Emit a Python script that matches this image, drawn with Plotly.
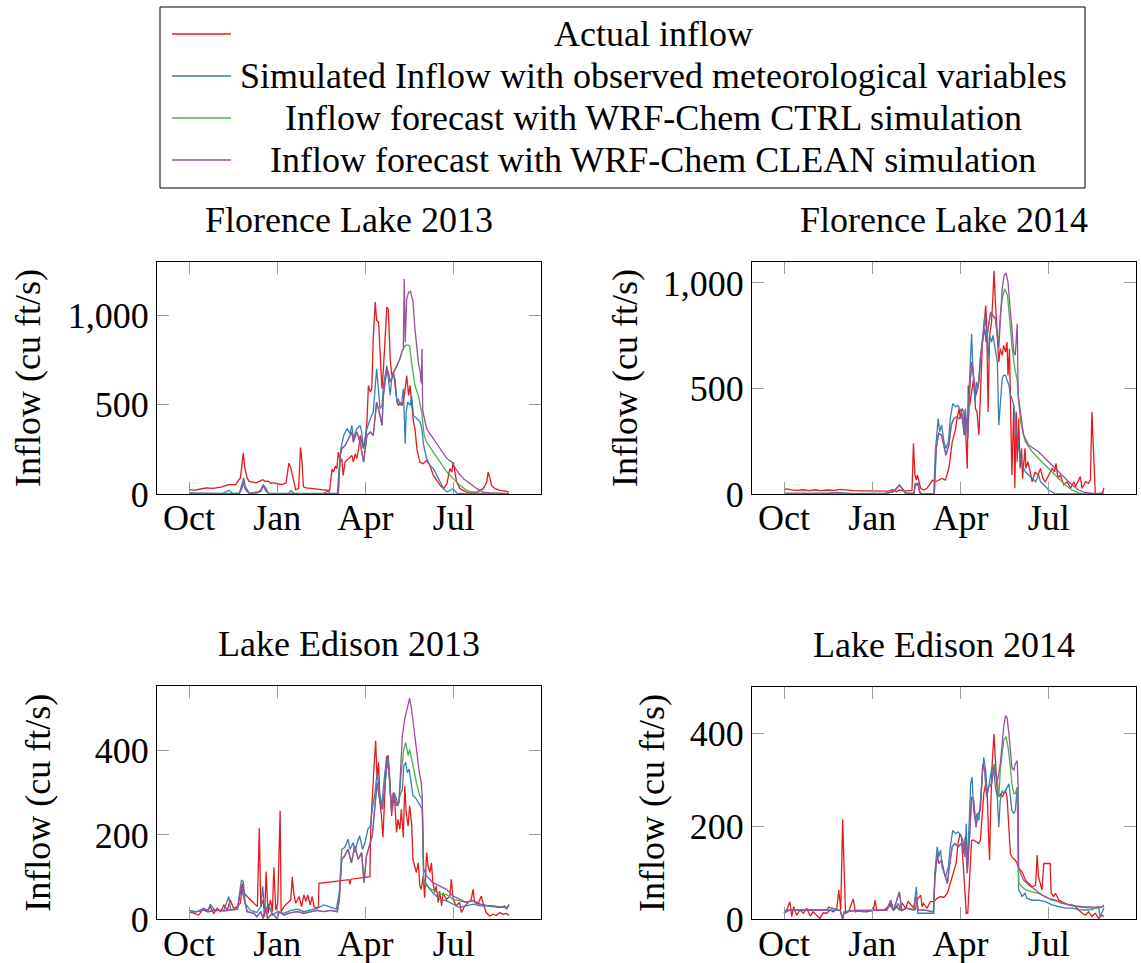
import plotly.graph_objects as go

# ---------------- data (day index since 1 Oct, inflow in cu ft/s) ----------------
MONTH_LABELS = ["Oct", "Jan", "Apr", "Jul"]
MONTH_DAYS = [0, 91, 182, 273]
SERIES_NAMES = ["Actual inflow",
                "Simulated Inflow with observed meteorological variables",
                "Inflow forecast with WRF-Chem CTRL simulation",
                "Inflow forecast with WRF-Chem CLEAN simulation"]
PANEL_TITLES = ["Florence Lake 2013", "Florence Lake 2014", "Lake Edison 2013", "Lake Edison 2014"]

FL13_ACTUAL = [(0,24),(6,22),(12,28),(18,34),(25,32),(33,38),(41,52),(48,52),(53,90),(56,230),(57.5,146),(60,90),(62,71),(66,64),(69,62),(73,72),(76,80),(79,70),(82,72),(84,60),(88,62),(91,56),(96,54),(100,60),(103,173),(105,146),(107.5,90),(110,24),(113,30),(115,261),(116.5,183),(118,40),(121,34),(126,30),(131,30),(136,24),(141,22),(145,20),(147.5,140),(149,123),(151,157),(152.5,142),(154,235),(156,179),(157.5,198),(159,104),(161,179),(164.5,198),(168,216),(169.5,179),(171.5,226),(173,198),(175,254),(176.5,328),(180,254),(181.5,300),(183.5,403),(185,608),(187,571),(188.5,590),(190,870),(192,1075),(193.5,972),(195.5,963),(197,832),(199,590),(200.5,702),(202.5,870),(204,1047),(205.5,1037),(207.5,758),(209,664),(211,683),(212.5,608),(214.5,515),(216,496),(217.5,515),(219.5,496),(221,515),(223,590),(224.5,664),(226.5,552),(228,608),(229.5,515),(231.5,403),(233,366),(235,254),(238,179),(241.5,170),(245,188),(248.5,160),(252,104),(255.5,77),(259,49),(262.5,30),(266,58),(269,142),(271,123),(272.5,179),(274.5,114),(276,67),(279.5,30),(286,11),(297,11),(303.5,30),(307,67),(308.5,123),(310.5,86),(312,49),(315.5,30),(321,20),(327.5,15),(330,11)]
FL13_SIM = [(0,6),(20,4),(35,4),(41,20),(45,4),(52,6),(55,62),(56.5,90),(58,43),(62,6),(70,4),(74,24),(76.5,52),(79,34),(82,4),(103,4),(105,20),(108,4),(139,4),(143,15),(146,4),(153,4),(155,155),(156.5,250),(159.5,328),(163,366),(166,338),(168,384),(169.5,310),(173,366),(176.5,384),(178,347),(180,254),(183.5,366),(187,422),(190,459),(193.5,702),(195.5,590),(197,478),(199,496),(200.5,608),(204,720),(205.5,655),(207.5,552),(209,645),(211,664),(212.5,645),(214.5,515),(216,533),(217.5,496),(219.5,515),(221,590),(223,282),(224,459),(225.5,515),(228,496),(229.5,552),(231.5,440),(235,422),(238.5,403),(240,366),(242,272),(245,198),(248.5,160),(252,142),(255.5,104),(259,67),(262.5,30),(266,11),(272.5,30),(276,5),(283,2),(330,2)]
FL13_CTRL = [(0,2),(20,2),(41,5),(52,4),(55,39),(56.5,71),(58,30),(62,2),(74,15),(76.5,47),(79,20),(82,2),(154,2),(156,216),(157.5,254),(161,272),(164.5,310),(168,347),(169.5,291),(173,347),(176.5,291),(180,179),(183.5,328),(187,347),(190,328),(193.5,515),(197,440),(199,384),(200.5,552),(204,702),(205.5,683),(207.5,627),(209,645),(211,683),(214.5,720),(217.5,758),(219.5,795),(221,814),(223,832),(225.5,835),(227.5,830),(229.5,739),(233,608),(236.5,552),(240,459),(242.5,328),(245,291),(252,235),(259,179),(266,123),(272.5,86),(279.5,49),(286.5,20),(293.5,6),(330,2)]
FL13_CLEAN = [(0,2),(20,2),(41,5),(52,4),(55,39),(56.5,71),(58,30),(62,2),(74,15),(76.5,47),(79,20),(82,2),(154,2),(156,216),(157.5,254),(161,272),(164.5,310),(168,347),(169.5,291),(173,347),(176.5,291),(180,179),(183.5,328),(187,347),(190,328),(193.5,515),(197,440),(199,384),(200.5,552),(204,702),(205.5,683),(207.5,627),(209,645),(211,683),(214.5,720),(217.5,758),(219.5,795),(221,814),(222,1205),(223,850),(224.5,1093),(226.5,1131),(228.5,1135),(231,1075),(233,925),(235,814),(236.5,739),(238.5,683),(239.5,620),(240.3,814),(241,470),(242.5,430),(245,366),(252,310),(259,254),(266,198),(271,179),(276,132),(283,86),(290,58),(297,30),(303.5,11),(310.5,6),(330,2)]

FL14_ACTUAL = [(0,20),(3,24),(8,20),(14,17),(20,20),(26,16),(32,20),(38,16),(45,19),(52,17),(58,22),(64,18),(72,16),(80,15),(90,14),(100,13),(108,14),(112,20),(116,10),(118.5,19),(125,14),(132,17),(133.5,239),(135,90),(136.5,66),(137.5,90),(139,58),(141,27),(144,19),(147.5,27),(151,50),(153,66),(156,58),(159.5,66),(163,74),(166.5,66),(170,121),(173.5,247),(177,310),(178.5,357),(180.5,405),(182,357),(183.5,405),(185.5,389),(187,326),(189,121),(190,515),(191.5,420),(193.5,484),(195.5,546),(197.5,405),(199,389),(201,279),(202.5,468),(204.5,704),(206,783),(208,893),(209,814),(210.5,389),(212,751),(214,814),(215.5,940),(216.5,1058),(218,909),(220,704),(221.5,625),(223,688),(225,657),(226.5,704),(228.5,672),(230,720),(231,562),(232.5,688),(234,342),(235,90),(237,420),(238,27),(239.5,389),(240.5,153),(242,357),(243.5,121),(245,216),(246,74),(248.5,216),(249.5,121),(251.5,153),(254,90),(256,58),(259,105),(262,90),(264.5,121),(267,74),(269.5,58),(273,90),(276.5,121),(279,105),(280.5,145),(282.5,74),(285,90),(288.5,43),(292,58),(295.5,27),(299,58),(300.5,35),(305.5,82),(307.5,27),(311,58),(314,50),(316,66),(317.5,389),(319.5,153),(321,3),(328,3),(330,30)]
FL14_SIM = [(0,2),(15,3),(30,2),(45,4),(60,5),(75,2),(90,3),(105,4),(112,10),(116,30),(119,40),(122,27),(125,3),(134,3),(135.5,50),(138.5,50),(140,11),(142.5,0),(154.5,0),(156,200),(159,357),(160.5,295),(162.5,326),(165,247),(167,216),(169.5,247),(171.5,357),(174,428),(177,413),(179.5,420),(182,397),(184.5,373),(186,295),(187,405),(189,295),(190.5,436),(191.5,578),(193.5,759),(194.5,625),(197,436),(198.5,531),(200,499),(201.5,578),(203.5,688),(205.5,783),(207,846),(209,767),(210.5,641),(212,751),(214,720),(215.5,751),(217.5,688),(220,625),(221.5,326),(223,436),(225,546),(226.5,562),(228.5,562),(230,539),(232,515),(233.5,468),(235,452),(237,420),(238.5,342),(242,216),(245.5,137),(249,105),(252.5,90),(256,74),(259.5,58),(262.5,90),(264.5,58),(268,43),(273,19),(280,0),(330,0)]
FL14_CTRL = [(0,3),(15,2),(30,4),(45,2),(55,8),(60,2),(90,2),(105,3),(112,10),(116,25),(119,42),(122,25),(126,3),(134,3),(135.5,45),(138.5,43),(140,5),(142,0),(155,0),(157,216),(159.5,287),(162.5,279),(165,216),(167,184),(170,231),(172.5,326),(175,357),(177.5,365),(180.5,357),(183.5,373),(186,279),(188,357),(189.5,263),(191.5,499),(193.5,625),(195.5,546),(198,468),(201,531),(202.5,641),(205,735),(207,783),(208.5,720),(210.5,783),(213,861),(215.5,846),(218,830),(220,751),(221.5,735),(223,846),(225,924),(227.5,972),(230.5,940),(233,814),(235,704),(238,594),(240.5,540),(242,440),(244,342),(249,247),(256,200),(262.5,168),(269.5,137),(276.5,105),(283.5,74),(290,43),(297,19),(304,5),(310,0),(330,0)]
FL14_CLEAN = [(0,3),(15,2),(30,4),(45,2),(55,8),(60,2),(90,2),(105,3),(112,10),(116,25),(119,42),(122,25),(126,3),(134,3),(135.5,45),(138.5,43),(140,5),(142,0),(155,0),(157,216),(159.5,287),(162.5,279),(165,216),(167,184),(170,231),(172.5,326),(175,357),(177.5,365),(180.5,357),(183.5,373),(186,279),(188,357),(189.5,263),(191.5,499),(193.5,625),(195.5,546),(198,468),(201,531),(202.5,641),(205,735),(207,783),(208.5,720),(210.5,783),(213,861),(215.5,846),(218,830),(220,751),(221.5,688),(223,814),(225,972),(227,1035),(229,1047),(231,1003),(233.5,861),(237,672),(238.5,657),(240.5,806),(241.5,468),(244,373),(247,279),(252.5,231),(259,208),(262.5,200),(269.5,168),(276.5,137),(283.5,105),(290,74),(297,43),(304,19),(311,6),(324.5,0),(330,11)]

LE13_ACTUAL = [(0,18),(5,14),(10,10),(15,26),(18.5,18),(22,30),(25.5,14),(29,26),(32.5,18),(36,34),(39.5,22),(42.5,46),(46,26),(49.5,30),(53,38),(55,85),(57,62),(60,54),(63.5,46),(67,38),(70.5,30),(72.5,216),(74,30),(76.5,46),(78,6),(79.5,113),(81.5,14),(84,46),(86,18),(87.5,123),(89.5,22),(91.5,38),(94,257),(95,18),(98,30),(101.5,38),(105,46),(106.5,101),(108,62),(110,38),(113.5,54),(116,30),(118.5,58),(120.5,42),(122.5,58),(125,34),(127,54),(129,30),(131.5,26),(133.5,30),(134,85),(165,94),(166,83),(167,95),(186.5,101),(187.5,221),(189,300),(190.5,348),(192.5,423),(194,332),(195.5,372),(197,277),(198.5,245),(200,194),(202,300),(203.5,384),(205.5,388),(207,332),(209,245),(210.5,300),(212,285),(214,206),(215.5,237),(217.5,214),(219,261),(221,194),(222.5,316),(224,253),(226,221),(227.5,269),(229.5,229),(231,142),(233,127),(234.5,111),(236.5,134),(238,79),(239.5,71),(241.5,103),(243,51),(245,158),(246.5,127),(248.5,111),(250,134),(251.5,87),(253.5,63),(255,79),(257,40),(258.5,67),(260.5,32),(262,63),(265.5,47),(269,55),(270.5,95),(272.5,47),(275.5,32),(279,40),(281,16),(284.5,32),(288,40),(291,47),(293,71),(294.5,40),(298,36),(301.5,55),(303,40),(306.5,16),(310,8),(313.5,12),(317,9),(320.5,16),(324,12),(327.5,14),(330,9)]
LE13_SIM = [(0,21),(8,18),(15,26),(20,22),(22,36),(27,20),(36,22),(41,54),(43,22),(50,26),(54,93),(56,89),(58,38),(63,22),(70,16),(74,30),(76,78),(78,14),(82,36),(86,10),(91,18),(98,14),(105,21),(112,24),(118.5,18),(125.5,22),(132,26),(139,34),(146,28),(152,24),(155,63),(157.5,166),(160.5,170),(164,190),(166,166),(169.5,182),(171,158),(173.5,182),(176,198),(179,166),(181.5,182),(184.5,214),(187,221),(189,261),(191.5,293),(194,348),(196,308),(198.5,269),(200,300),(202,348),(204.5,388),(206.5,356),(208,293),(210,261),(211.5,300),(214,285),(215.5,269),(217.5,293),(220,308),(221.5,364),(223.5,372),(225,348),(227,356),(229.5,316),(231,293),(234.5,285),(238,269),(240.5,261),(242,95),(244,87),(248.5,71),(251.5,63),(258.5,47),(265.5,44),(272.5,36),(279,28),(286,32),(293,36),(300,32),(306.5,32),(313.5,30),(320.5,28),(325.5,32),(327.5,24),(330,36)]
LE13_CTRL = [(0,16),(8,18),(15,22),(20,18),(27,22),(36,20),(43,22),(50,24),(54,78),(57,46),(60,18),(67,14),(70,6),(74,18),(76.5,2),(79,30),(81,2),(86,14),(91,2),(93,18),(98,10),(105,16),(112,18),(118.5,14),(125.5,18),(132,21),(139,18),(146,21),(153,18),(155,47),(157.5,142),(160.5,150),(164,166),(167.5,134),(171,174),(174.5,142),(178,158),(180.5,87),(183,150),(186.5,182),(189,198),(191.5,261),(194,324),(197,277),(199.5,261),(202,316),(204.5,380),(206.5,340),(209,253),(211,300),(214,269),(216.5,277),(218.5,340),(221.5,403),(223.5,419),(226,388),(227.5,403),(231,364),(234.5,324),(238,293),(240.5,285),(242,87),(245,79),(250,71),(255,67),(258.5,59),(265.5,59),(272.5,47),(279,44),(286,40),(293,44),(300,36),(306.5,33),(313.5,32),(320.5,30),(327.5,28),(330,32)]
LE13_CLEAN = [(0,16),(8,18),(15,22),(20,18),(27,22),(36,20),(43,22),(50,24),(54,78),(57,46),(60,18),(67,14),(70,6),(74,18),(76.5,2),(79,30),(81,2),(86,14),(91,2),(93,18),(98,10),(105,16),(112,18),(118.5,14),(125.5,18),(132,21),(139,18),(146,21),(153,18),(155,47),(157.5,142),(160.5,150),(164,166),(167.5,134),(171,174),(174.5,142),(178,158),(180.5,87),(183,150),(186.5,182),(189,198),(191.5,261),(194,324),(197,277),(199.5,261),(202,316),(204.5,380),(206.5,340),(209,253),(211,300),(214,269),(216.5,277),(218.5,372),(220,435),(222.5,475),(225,498),(227.5,524),(229.5,498),(232,451),(234.5,396),(237.5,348),(239.5,324),(240.5,293),(242,119),(245,103),(251.5,87),(258.5,79),(265.5,71),(272.5,55),(279,47),(286,40),(293,44),(300,36),(306.5,33),(313.5,32),(320.5,29),(327.5,28),(330,32)]

LE14_ACTUAL = [(0,13),(3,20),(6,38),(8,6),(10,27),(13,9),(16.5,20),(20,13),(23.5,24),(27,7),(30,16),(34,9),(37,2),(40.5,14),(44,13),(47.5,20),(51,16),(54.5,24),(56.5,63),(58.5,20),(60.5,215),(62,106),(63.5,13),(66.5,16),(71.5,44),(73.5,16),(78.5,19),(85,16),(92,19),(94,41),(95.5,19),(102.5,20),(106,24),(109.5,34),(113,20),(116.5,27),(118.5,20),(122,34),(125.5,24),(128,38),(132,27),(135.5,20),(137,41),(141,52),(142.5,27),(144,34),(147.5,24),(151,38),(154.5,38),(158,45),(161.5,49),(165,47),(168.5,56),(171.5,77),(175,99),(177.5,120),(179.5,163),(181.5,184),(183,177),(184.5,120),(186.5,70),(188,13),(189.5,13),(191.5,99),(193.5,170),(195.5,170),(198,166),(201,163),(202.5,170),(204.5,220),(206,270),(208,291),(209.5,277),(211,177),(212,127),(213,227),(214.5,327),(216.5,398),(218,341),(220,270),(221.5,263),(223,270),(225,263),(226.5,270),(228.5,277),(230,263),(232,198),(233.5,141),(235,134),(237,131),(238.5,127),(240.5,120),(242,109),(245.5,102),(249,84),(252.5,77),(256,70),(259.5,73),(261,138),(262.5,91),(264.5,77),(266,63),(268,120),(274.5,120),(275.5,56),(278,49),(280,56),(283.5,41),(286.5,38),(290,34),(293.5,31),(297,31),(300.5,27),(304,20),(307.5,13),(311,9),(314,16),(317.5,6),(321,13),(324.5,2),(328,9),(330,6)]
LE14_SIM = [(0,16),(3,20),(16.5,20),(30,21),(44,20),(58,19),(60,6),(63,16),(72,19),(82,16),(92,20),(106,19),(109,31),(113,19),(118,34),(120,19),(126.5,24),(133.5,20),(136.5,70),(138,13),(147,13),(154.5,13),(155.5,99),(158,156),(159.5,134),(161.5,149),(163,113),(166.5,91),(169.5,113),(171.5,156),(174,191),(177,184),(179.5,188),(182,181),(184.5,170),(186.5,134),(188,206),(189,106),(190.5,184),(192.5,291),(194,306),(195.5,234),(197.5,213),(199,227),(201,213),(202.5,248),(204.5,306),(206,348),(208,320),(209.5,270),(211,284),(213,313),(214.5,327),(216.5,320),(218,284),(220,263),(221.5,198),(223,256),(225,277),(226.5,270),(228.5,277),(230,284),(232,291),(233.5,263),(235,234),(237,227),(238.5,234),(240.5,284),(242,63),(244,56),(245.5,49),(248.5,56),(250.5,45),(256,41),(262.5,41),(269.5,38),(276.5,31),(283.5,27),(290,24),(297,24),(304,21),(311,20),(317.5,21),(324.5,27),(326,6),(330,24)]
LE14_CTRL = [(0,13),(6,20),(16.5,20),(30,19),(44,19),(46,26),(58,19),(60.5,0),(62,16),(75,19),(92,19),(106,19),(110,41),(113,19),(119,59),(121.5,19),(126.5,24),(133.5,20),(136,49),(138.5,20),(147,19),(154,16),(155.5,84),(158,141),(159.5,120),(162.5,127),(165,102),(168.5,77),(170.5,113),(173.5,156),(176,163),(179.5,156),(183,163),(185.5,141),(187,177),(189,99),(191.5,184),(193.5,263),(195.5,256),(198,198),(200,227),(202.5,234),(205,334),(207,320),(209,263),(211,284),(214,291),(216.5,334),(220,298),(221.5,263),(223,320),(225,356),(226.5,384),(229,393),(231,370),(233.5,327),(235,291),(237,270),(238.5,270),(240.5,284),(241.5,99),(242,77),(245.5,70),(249,63),(256,59),(262.5,56),(269.5,49),(276.5,41),(283.5,38),(290,34),(297,29),(304,27),(311,25),(317.5,24),(324.5,24),(330,27)]
LE14_CLEAN = [(0,13),(6,20),(16.5,20),(30,19),(44,19),(46,26),(58,19),(60.5,0),(62,16),(75,19),(92,19),(106,19),(110,41),(113,19),(119,59),(121.5,19),(126.5,24),(133.5,20),(136,49),(138.5,20),(147,19),(154,16),(155.5,84),(158,141),(159.5,120),(162.5,127),(165,102),(168.5,77),(170.5,113),(173.5,156),(176,163),(179.5,156),(183,163),(185.5,141),(187,177),(189,99),(191.5,184),(193.5,263),(195.5,256),(198,198),(200,227),(202.5,234),(205,334),(207,320),(209,263),(211,284),(214,291),(216.5,327),(218,313),(220,298),(221.5,313),(223,334),(225,377),(226.5,413),(228.5,438),(230,434),(232,398),(233.5,363),(235,327),(237,320),(238.5,334),(240.5,341),(241.5,284),(242,113),(244,99),(247,84),(252.5,73),(259.5,63),(266,52),(273,45),(280,41),(286.5,34),(293.5,31),(300.5,29),(307.5,27),(314,26),(321,26),(328,27),(330,31)]

# ---------------- styling / layout ----------------
W, H = 1141, 963
FONT = "Liberation Serif, Times New Roman, DejaVu Serif, serif"
FS = 36
COLORS = ["#e41a1c", "#377eb8", "#4daf4a", "#984ea3"]
LW = 1.3

PANELS = [
    dict(series=[FL13_ACTUAL, FL13_SIM, FL13_CTRL, FL13_CLEAN], box=(157, 541, 262, 494), yr=[0, 1300], yt=[0, 500, 1000], ylab_x=28),
    dict(series=[FL14_ACTUAL, FL14_SIM, FL14_CTRL, FL14_CLEAN], box=(752, 1136, 262, 494), yr=[0, 1099], yt=[0, 500, 1000], ylab_x=625),
    dict(series=[LE13_ACTUAL, LE13_SIM, LE13_CTRL, LE13_CLEAN], box=(157, 541, 686, 919.3), yr=[0, 553], yt=[0, 200, 400], ylab_x=38),
    dict(series=[LE14_ACTUAL, LE14_SIM, LE14_CTRL, LE14_CLEAN], box=(752, 1136, 686.7, 919.3), yr=[0, 500], yt=[0, 200, 400], ylab_x=652),
]

def fx(px):
    return px / W

def fy(py):
    return 1 - py / H

fig = go.Figure()
annotations = []
shapes = []
layout_axes = {}

for i, p in enumerate(PANELS):
    n = i + 1
    xa = "x" if n == 1 else f"x{n}"
    ya = "y" if n == 1 else f"y{n}"
    for s, col, name in zip(p["series"], COLORS, SERIES_NAMES):
        days = [d for d, _ in s]
        vals = [v for _, v in s]
        fig.add_trace(go.Scatter(x=days, y=vals, mode="lines", name=name,
                                 line=dict(color=col, width=LW),
                                 xaxis=xa, yaxis=ya, showlegend=False,
                                 hoverinfo="skip"))
    x0, x1, y0, y1 = p["box"]
    axis_common = dict(showline=True, linecolor="black", linewidth=1, mirror="ticks",
                       ticks="inside", ticklen=12, tickwidth=1.4, tickcolor="#9a9a9a",
                       showgrid=False, zeroline=False, automargin=False,
                       tickfont=dict(family=FONT, size=FS, color="black"))
    layout_axes["xaxis" if n == 1 else f"xaxis{n}"] = dict(
        domain=[fx(x0), fx(x1)], anchor=ya, range=[-33, 363],
        tickmode="array", tickvals=MONTH_DAYS, ticktext=MONTH_LABELS,
        ticklabelstandoff=-8, **axis_common)
    layout_axes["yaxis" if n == 1 else f"yaxis{n}"] = dict(
        domain=[fy(y1), fy(y0)], anchor=xa, range=p["yr"],
        tickmode="array", tickvals=p["yt"], tickformat=",d", **axis_common)
    # panel title
    annotations.append(dict(text=PANEL_TITLES[i], x=fx((x0 + x1) / 2), y=fy(y0 - 42),
                            xref="paper", yref="paper", showarrow=False,
                            xanchor="center", yanchor="middle",
                            font=dict(family=FONT, size=FS, color="black")))
    # y-axis title
    annotations.append(dict(text="Inflow (cu ft/s)", x=fx(p["ylab_x"]), y=fy((y0 + y1) / 2),
                            xref="paper", yref="paper", showarrow=False, textangle=-90,
                            xanchor="center", yanchor="middle",
                            font=dict(family=FONT, size=FS, color="black")))

# legend (drawn manually, pgfplots style with centred entries)
LEG_BOX = (160, 1085, 7, 188)
LEG_ROWS = [34, 76, 118, 160]
shapes.append(dict(type="rect", xref="paper", yref="paper",
                   x0=fx(LEG_BOX[0]), x1=fx(LEG_BOX[1]), y0=fy(LEG_BOX[3]), y1=fy(LEG_BOX[2]),
                   line=dict(color="black", width=1), fillcolor="white", layer="below"))
for row_y, col, name in zip(LEG_ROWS, COLORS, SERIES_NAMES):
    shapes.append(dict(type="line", xref="paper", yref="paper",
                       x0=fx(172), x1=fx(231), y0=fy(row_y), y1=fy(row_y),
                       line=dict(color=col, width=LW)))
    annotations.append(dict(text=name, x=fx(653), y=fy(row_y), xref="paper", yref="paper",
                            showarrow=False, xanchor="center", yanchor="middle",
                            font=dict(family=FONT, size=FS, color="black")))

fig.update_layout(width=W, height=H, margin=dict(l=0, r=0, t=0, b=0, autoexpand=False),
                  paper_bgcolor="white", plot_bgcolor="white",
                  showlegend=False, annotations=annotations, shapes=shapes,
                  separators=".,", **layout_axes)

fig.write_html("out.html")
